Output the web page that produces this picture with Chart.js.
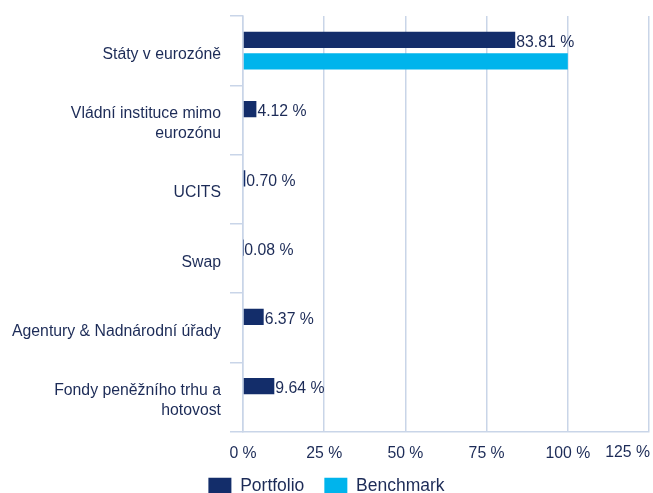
<!DOCTYPE html>
<html>
<head>
<meta charset="utf-8">
<script src="https://cdn.jsdelivr.net/npm/chart.js@4"></script>
<style>
  html, body { margin: 0; padding: 0; background: #fff; }
  #wrap { width: 653px; height: 493px; }
</style>
</head>
<body>
<div id="wrap"><canvas id="allocChart"></canvas></div>
<script>
const categories = [
  'Státy v eurozóně',
  ['Vládní instituce mimo', 'eurozónu'],
  'UCITS',
  'Swap',
  'Agentury & Nadnárodní úřady',
  ['Fondy peněžního trhu a', 'hotovost']
];
const portfolio = [83.81, 4.12, 0.70, 0.08, 6.37, 9.64];
const benchmark = [100, null, null, null, null, null];
const xTicks = [0, 25, 50, 75, 100, 125];

const navy = '#132d6a';
const cyan = '#00b4ec';
const textColor = '#1c2b57';
const gridColor = '#c9d5e8';
const family = "'Liberation Sans', Arial, sans-serif";
const font = { family: family, size: 15.8 };
const xPad = 13;

// value labels at the end of the portfolio bars
const barLabels = {
  id: 'barLabels',
  afterDatasetsDraw(chart) {
    const ctx = chart.ctx;
    const meta = chart.getDatasetMeta(0);
    ctx.save();
    ctx.font = `${font.size}px ${family}`;
    ctx.fillStyle = textColor;
    ctx.textAlign = 'left';
    ctx.textBaseline = 'middle';
    meta.data.forEach((bar, i) => {
      ctx.fillText(portfolio[i].toFixed(2) + ' %', bar.x + 1, bar.y + 3);
    });
    ctx.restore();
  }
};

// last x tick label sits inside the canvas, right aligned
const lastTick = {
  id: 'lastTick',
  afterLayout(chart) {
    // let the x labels draw below the (short) axis box without clipping
    chart.scales.x.bottom = chart.height;
  },
  afterDraw(chart) {
    const x = chart.scales.x;
    const last = xTicks[xTicks.length - 1];
    const ctx = chart.ctx;
    ctx.save();
    ctx.font = `${font.size}px ${family}`;
    ctx.fillStyle = textColor;
    ctx.textAlign = 'right';
    ctx.textBaseline = 'top';
    ctx.fillText(last + ' %', x.getPixelForValue(last) + 1, x.top + xPad);
    ctx.restore();
  }
};

new Chart(document.getElementById('allocChart'), {
  type: 'bar',
  data: {
    labels: categories,
    datasets: [
      {
        label: 'Portfolio',
        data: portfolio,
        backgroundColor: navy,
        categoryPercentage: 0.62,
        barPercentage: 0.75
      },
      {
        label: 'Benchmark',
        data: benchmark,
        backgroundColor: cyan,
        categoryPercentage: 0.62,
        barPercentage: 0.75
      }
    ]
  },
  options: {
    indexAxis: 'y',
    responsive: true,
    maintainAspectRatio: false,
    animation: false,
    layout: {
      padding: { top: 16, right: 4, left: 4, bottom: -12 }
    },
    scales: {
      x: {
        min: 0,
        max: 125,
        afterBuildTicks: (scale) => {
          scale.ticks = xTicks.map((v) => ({ value: v }));
        },
        afterFit: (scale) => {
          scale.height = 26;
          scale.paddingRight = 0;
        },
        ticks: {
          font: font,
          color: textColor,
          padding: xPad,
          maxRotation: 0,
          callback: (value) => (value === xTicks[xTicks.length - 1] ? '' : value + ' %')
        },
        grid: {
          color: gridColor,
          lineWidth: 1.5,
          drawTicks: false
        },
        border: {
          color: gridColor,
          width: 1.5
        }
      },
      y: {
        afterFit: (scale) => {
          scale.width = 239;
          scale.paddingTop = 0;
          scale.paddingBottom = 0;
        },
        ticks: {
          font: { ...font, lineHeight: 1.27 },
          color: textColor,
          padding: 9,
          labelOffset: 4
        },
        grid: {
          offset: true,
          drawOnChartArea: false,
          tickLength: 13,
          color: gridColor,
          lineWidth: 1.5
        },
        border: {
          color: gridColor,
          width: 1.5
        }
      }
    },
    plugins: {
      legend: {
        position: 'bottom',
        labels: {
          font: { family: family, size: 17.5 },
          color: textColor,
          boxWidth: 23,
          boxHeight: 17,
          padding: 20
        }
      },
      tooltip: { enabled: false }
    }
  },
  plugins: [barLabels, lastTick]
});
</script>
</body>
</html>
